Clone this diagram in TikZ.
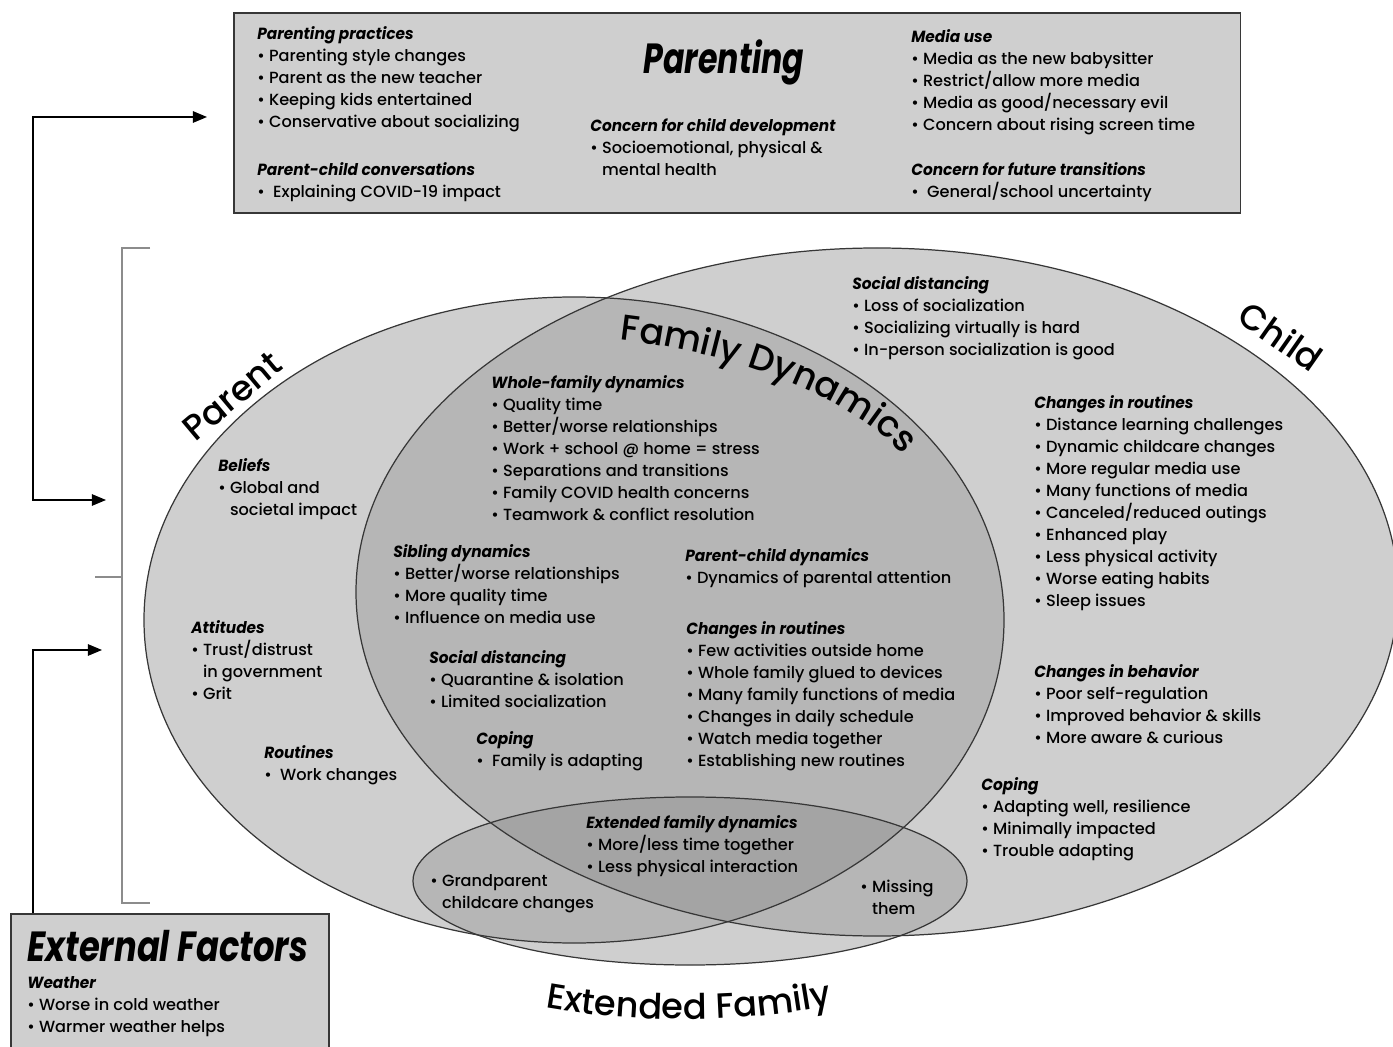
\documentclass[tikz,border=0pt]{standalone}
\usepackage{fontspec}
\setmainfont{Poppins Medium}
\newfontfamily\headfont[FakeStretch=0.95]{Poppins}
\newfontfamily\titlefont[FakeStretch=0.75]{Poppins}
\newfontfamily\exttitlefont[FakeStretch=0.8]{Poppins}
\usetikzlibrary{positioning, arrows.meta, decorations.text}
\definecolor{vennLight}{RGB}{207,207,207}
\definecolor{vennMid}{RGB}{182,182,182}
\definecolor{vennDark}{RGB}{164,164,164}
\definecolor{edgeGray}{RGB}{55,55,55}
\definecolor{bracketGray}{RGB}{140,140,140}
\newcommand\hd[1]{{\headfont\bfseries\itshape #1}}
\newcommand\bl{\textbullet\ }
\newcommand\ind{\phantom{\textbullet\ }}
\newcommand\parentpath{(574,620) ellipse [x radius=430, y radius=323]}
\newcommand\childpath{(877,592) ellipse [x radius=521, y radius=344]}
\newcommand\extpath{(690,881) ellipse [x radius=277, y radius=84]}

\begin{document}
\begin{tikzpicture}[x=0.02cm, y=-0.02cm,
  >={Triangle[length=8pt, width=6.5pt]},
  block/.style={anchor=north west, align=left, inner sep=0pt, yshift=-0.05cm, font=\fontsize{9.2}{12.5}\selectfont},
  panel/.style={draw=edgeGray, line width=0.9pt, fill=vennLight, anchor=north west, inner sep=0pt},
  bigtitle/.style={font=\titlefont\fontsize{24}{24}\selectfont\bfseries\itshape, inner sep=0pt},
  setlabel/.style={font=\fontsize{20}{20}\selectfont, inner sep=0pt},
  outline/.style={draw=edgeGray, line width=0.7pt},
  conn/.style={line width=0.8pt},
  bracket/.style={draw=bracketGray, line width=0.7pt},
]
\clip (0,0) rectangle (1393,1047);

% venn shading
\fill[vennLight] \parentpath;
\fill[vennLight] \childpath;
\fill[vennLight] \extpath;
\begin{scope}
  \clip \parentpath;
  \fill[vennMid] \childpath;
\end{scope}
\begin{scope}
  \clip \extpath;
  \fill[vennMid] \parentpath;
  \fill[vennMid] \childpath;
  \clip \parentpath;
  \fill[vennDark] \childpath;
\end{scope}
\draw[outline] \parentpath;
\draw[outline] \childpath;
\draw[outline] \extpath;

% set labels
\node[setlabel, rotate=40] (parentlabel) at (232,396) {Parent};
\node[setlabel, rotate=-35] (childlabel) at (1281,336) {Child};
\path[decorate, decoration={text along path, text align=center,
  text={|\fontsize{20.5}{20.5}\selectfont|Family Dynamics}}]
  (620,340) .. controls (722,352) and (840,388) .. (903,455);
\path[decorate, decoration={text along path, text align=center,
  text={|\fontsize{20}{20}\selectfont|Extended Family}}]
  (536,1006) .. controls (630,1024) and (750,1024) .. (842,1003);

% parenting panel
\node[panel, minimum width=20.14cm, minimum height=4cm] (parentingbox) at (233,12) {};
\node[bigtitle] (parentingtitle) at (724,62) {Parenting};
\node[block] (ppractice) at (257,24) {\hd{Parenting practices}\\\bl Parenting style changes\\\bl Parent as the new teacher\\\bl Keeping kids entertained\\\bl Conservative about socializing};
\node[block] (pconv) at (257,160) {\hd{Parent-child conversations}\\\bl\ Explaining COVID-19 impact};
\node[block] (pconcern) at (590,116) {\hd{Concern for child development}\\\bl Socioemotional, physical \&\\\ind mental health};
\node[block] (pmedia) at (911,27) {\hd{Media use}\\\bl Media as the new babysitter\\\bl Restrict/allow more media\\\bl Media as good/necessary evil\\\bl Concern about rising screen time};
\node[block] (pfuture) at (911,160) {\hd{Concern for future transitions}\\\bl\ General/school uncertainty};

% parent
\node[block] (beliefs) at (218,456) {\hd{Beliefs}\\\bl Global and\\\ind societal impact};
\node[block] (attitudes) at (191,618) {\hd{Attitudes}\\\bl Trust/distrust\\\ind in government\\\bl Grit};
\node[block] (routinesp) at (264,743) {\hd{Routines}\\\bl\ Work changes};

% family dynamics
\node[block] (wholefam) at (491,373) {\hd{Whole-family dynamics}\\\bl Quality time\\\bl Better/worse relationships\\\bl Work + school @ home = stress\\\bl Separations and transitions\\\bl Family COVID health concerns\\\bl Teamwork \& conflict resolution};
\node[block] (sibling) at (393,542) {\hd{Sibling dynamics}\\\bl Better/worse relationships\\\bl More quality time\\\bl Influence on media use};
\node[block] (socdistfam) at (429,648) {\hd{Social distancing}\\\bl Quarantine \& isolation\\\bl Limited socialization};
\node[block] (copingfam) at (476,729) {\hd{Coping}\\\bl\ Family is adapting};
\node[block] (pcdyn) at (685,546) {\hd{Parent-child dynamics}\\\bl Dynamics of parental attention};
\node[block] (routinesfam) at (686,619) {\hd{Changes in routines}\\\bl Few activities outside home\\\bl Whole family glued to devices\\\bl Many family functions of media\\\bl Changes in daily schedule\\\bl Watch media together\\\bl Establishing new routines};

% child
\node[block] (socdistchild) at (852,274) {\hd{Social distancing}\\\bl Loss of socialization\\\bl Socializing virtually is hard\\\bl In-person socialization is good};
\node[block] (routineschild) at (1034,393) {\hd{Changes in routines}\\\bl Distance learning challenges\\\bl Dynamic childcare changes\\\bl More regular media use\\\bl Many functions of media\\\bl Canceled/reduced outings\\\bl Enhanced play\\\bl Less physical activity\\\bl Worse eating habits\\\bl Sleep issues};
\node[block] (behavior) at (1034,662) {\hd{Changes in behavior}\\\bl Poor self-regulation\\\bl Improved behavior \& skills\\\bl More aware \& curious};
\node[block] (copingchild) at (981,775) {\hd{Coping}\\\bl Adapting well, resilience\\\bl Minimally impacted\\\bl Trouble adapting};

% extended family
\node[block] (extdyn) at (586,813) {\hd{Extended family dynamics}\\\bl More/less time together\\\bl Less physical interaction};
\node[block] (grandparent) at (430,872) {\bl Grandparent\\\ind childcare changes};
\node[block] (missing) at (860,877) {\bl Missing\\\ind them};

% external factors
\node[panel, minimum width=6.36cm, minimum height=3.2cm] (extbox) at (10,913) {};
\node[bigtitle, anchor=west, font=\exttitlefont\fontsize{24}{24}\selectfont\bfseries\itshape] (exttitle) at (27,946) {External Factors};
\node[block] (weather) at (27,974) {\hd{Weather}\\\bl Worse in cold weather\\\bl Warmer weather helps};

% bracket and arrows
\draw[bracket] (150,248) -- (122,248) -- (122,903) -- (150,903);
\draw[bracket] (95,577) -- (122,577);
\coordinate (bracketout) at (106,500);
\coordinate (parentingin) at (207,117);
\coordinate (bracketin) at (102,650);
\draw[conn, <->] (bracketout) -- ++(-73,0) |- (parentingin);
\draw[conn, ->] ([xshift=0.46cm]extbox.north west) |- (bracketin);
\end{tikzpicture}
\end{document}
